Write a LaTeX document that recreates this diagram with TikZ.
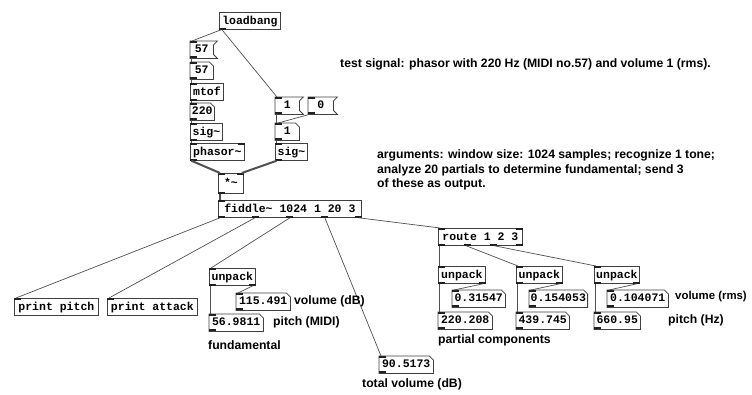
\documentclass[tikz,border=0pt]{standalone}
\usepackage{fontspec}
\setmainfont{Liberation Sans}
\newfontfamily\pdmono{Liberation Mono}
\usetikzlibrary{calc}
\definecolor{boxcol}{HTML}{404040}
\definecolor{wirecol}{HTML}{505050}
\definecolor{iocol}{HTML}{202020}
\newcommand\pdin[2]{\fill[iocol] let \p1=(#1.north west), \p2=(#1.north east) in (\x1+#2*\x2-#2*\x1-#2*7pt,\y1) rectangle ++(7pt,-2pt);}
\newcommand\pdout[2]{\fill[iocol] let \p1=(#1.south west), \p2=(#1.south east) in (\x1+#2*\x2-#2*\x1-#2*7pt,\y1) rectangle ++(7pt,2pt);}
\newcommand\msgshape[1]{\draw[boxline] (#1.north west) -- ([xshift=4pt]#1.north east) -- ([yshift=-4pt]#1.north east) -- ([yshift=4pt]#1.south east) -- ([xshift=4pt]#1.south east) -- (#1.south west) -- cycle;}
\newcommand\numshape[1]{\draw[boxline] (#1.north west) -- ([xshift=-4pt]#1.north east) -- ([yshift=-4pt]#1.north east) -- (#1.south east) -- (#1.south west) -- cycle;}
\tikzset{
  boxline/.style={draw=boxcol, line width=0.8pt},
  pdbox/.style={anchor=north west, inner xsep=1.5pt, inner ysep=0pt, minimum height=17pt,
    text height=9pt, text depth=2.5pt, font=\pdmono\bfseries\fontsize{11.5}{13}\selectfont, text=black},
  obj/.style={pdbox, boxline},
  atom/.style={pdbox},
  wire/.style={draw=wirecol, line width=0.7pt},
  sigwire/.style={draw=wirecol, line width=2pt},
  lab/.style={anchor=west, inner sep=0pt, font=\bfseries\fontsize{12.2}{14.5}\selectfont, text=black, align=left}
}
\begin{document}
\begin{tikzpicture}[x=1pt,y=-1pt]
\useasboundingbox (0,0) rectangle (752,394);
\fill[white] (0,0) rectangle (752,394);
% left chain
\node[obj, minimum width=61pt] (lb) at (219,12) {loadbang};
\node[atom, minimum width=23pt] (m57) at (190,41) {57};
\node[atom, minimum width=23pt] (n57) at (190,62) {57};
\node[obj, minimum width=33pt] (mtof) at (190,83) {mtof};
\node[atom, minimum width=24pt] (n220) at (190,103) {220};
\node[obj, minimum width=32pt] (sigA) at (190,123) {sig\textasciitilde};
\node[obj, minimum width=54pt] (phs) at (190,143) {phasor\textasciitilde};
% right chain
\node[atom, minimum width=24pt] (m1) at (275,97) {1};
\node[atom, minimum width=25pt] (m0) at (308,97) {0};
\node[atom, minimum width=24pt] (n1) at (275,123) {1};
\node[obj, minimum width=32pt] (sigB) at (275,143) {sig\textasciitilde};
\node[obj, minimum width=25pt, minimum height=20pt] (mul) at (218,173) {*\textasciitilde};
\node[obj, minimum width=143pt] (fid) at (218,200) {fiddle\textasciitilde{} 1024 1 20 3};
% outputs
\node[obj, minimum width=84pt] (pp) at (14,298) {print pitch};
\node[obj, minimum width=90pt] (pa) at (107,298) {print attack};
\node[obj, minimum width=46pt] (up0) at (209,268) {unpack};
\node[atom, minimum width=54pt] (nvol) at (236,293) {115.491};
\node[atom, minimum width=54pt] (npit) at (209,314) {56.9811};
\node[atom, minimum width=54pt] (ntot) at (379,356) {90.5173};
\node[obj, minimum width=84pt] (rt) at (438,228) {route 1 2 3};
\node[obj, minimum width=47pt] (up1) at (438,266) {unpack};
\node[obj, minimum width=46pt] (up2) at (516,266) {unpack};
\node[obj, minimum width=45pt] (up3) at (594,266) {unpack};
\node[atom, minimum width=53pt] (a1) at (452,290) {0.31547};
\node[atom, minimum width=58pt] (a2) at (529,290) {0.154053};
\node[atom, minimum width=61pt] (a3) at (607,290) {0.104071};
\node[atom, minimum width=54pt] (f1) at (438,312) {220.208};
\node[atom, minimum width=53pt] (f2) at (516,312) {439.745};
\node[atom, minimum width=46pt] (f3) at (594,312) {660.95};
% shapes
\foreach \nd in {m57,m1,m0} {\msgshape{\nd}}
\foreach \nd in {n57,n220,n1,nvol,npit,ntot,a1,a2,a3,f1,f2,f3} {\numshape{\nd}}
% inlets / outlets
\foreach \nd in {m57,n57,mtof,n220,sigA,phs,m1,m0,n1,sigB,mul,fid,pp,pa,up0,nvol,npit,ntot,rt,up1,up2,up3,a1,a2,a3,f1,f2,f3} {\pdin{\nd}{0}}
\foreach \nd in {lb,m57,n57,mtof,n220,sigA,phs,m1,m0,n1,sigB,mul,up0,nvol,npit,ntot,up1,up2,up3,a1,a2,a3,f1,f2,f3} {\pdout{\nd}{0}}
\pdin{phs}{1} \pdin{mul}{1} \pdin{rt}{1}
\foreach \nd in {up0,up1,up2,up3} {\pdout{\nd}{1}}
\foreach \f in {0,0.25,0.5,0.75,1} {\pdout{fid}{\f}}
\foreach \f in {0,0.3333,0.6667,1} {\pdout{rt}{\f}}
% wires
\draw[wire] ([xshift=2pt]lb.south west) -- ([xshift=2pt]m57.north west);
\draw[wire] ([xshift=3pt]lb.south west) -- ([xshift=2pt]m1.north west);
\foreach \a/\b in {m57/n57,n57/mtof,mtof/n220,n220/sigA,sigA/phs,m1/n1,n1/sigB}
  {\draw[wire] ([xshift=1.5pt]\a.south west) -- ([xshift=1.5pt]\b.north west);}
\draw[wire] ([xshift=1.5pt]m0.south west) -- ([xshift=3pt]n1.north west);
\draw[sigwire] ([xshift=1.5pt]phs.south west) -- ([xshift=2pt]mul.north west);
\draw[sigwire] ([xshift=1.5pt]sigB.south west) -- ([xshift=-2pt]mul.north east);
\draw[sigwire] ([xshift=1.5pt]mul.south west) -- ([xshift=1.5pt]fid.north west);
\draw[wire] ([xshift=2pt]fid.south west) -- ([xshift=2pt]pp.north west);
\draw[wire] ($(fid.south west)!0.25!(fid.south east)+(1pt,0)$) -- ([xshift=2pt]pa.north west);
\draw[wire] ($(fid.south west)!0.5!(fid.south east)$) -- ([xshift=2pt]up0.north west);
\draw[wire] ($(fid.south west)!0.75!(fid.south east)+(-1pt,0)$) -- ([xshift=2pt]ntot.north west);
\draw[wire] ([xshift=-3pt]fid.south east) -- ([xshift=2pt]rt.north west);
\draw[wire] ([xshift=1.5pt]up0.south west) -- ([xshift=1.5pt]npit.north west);
\draw[wire] ([xshift=-3pt]up0.south east) -- ([xshift=2pt]nvol.north west);
\draw[wire] ([xshift=1.5pt]rt.south west) -- ([xshift=1.5pt]up1.north west);
\draw[wire] ($(rt.south west)!0.3333!(rt.south east)$) -- ([xshift=2pt]up2.north west);
\draw[wire] ($(rt.south west)!0.6667!(rt.south east)$) -- ([xshift=2pt]up3.north west);
\foreach \u/\a/\f in {up1/a1/f1,up2/a2/f2,up3/a3/f3} {
  \draw[wire] ([xshift=1.5pt]\u.south west) -- ([xshift=1.5pt]\f.north west);
  \draw[wire] ([xshift=-3pt]\u.south east) -- ([xshift=2pt]\a.north west);
}
% labels
\node[lab] (tsig) at (340,64) {test signal: phasor with 220 Hz (MIDI no.57) and volume 1 (rms).};
\node[lab] (args) at (377,170) {arguments: window size: 1024 samples; recognize 1 tone;\\analyze 20 partials to determine fundamental; send 3\\of these as output.};
\node[lab] (lvdb) at (294,301) {volume (dB)};
\node[lab] (lpm) at (273,322) {pitch (MIDI)};
\node[lab] (lfund) at (208,345) {fundamental};
\node[lab, font=\bfseries\fontsize{11.4}{14}\selectfont] (lvr) at (675,297) {volume (rms)};
\node[lab] (lphz) at (668,320) {pitch (Hz)};
\node[lab] (lpart) at (438,340) {partial components};
\node[lab] (ltot) at (362,384) {total volume (dB)};
\end{tikzpicture}
\end{document}
